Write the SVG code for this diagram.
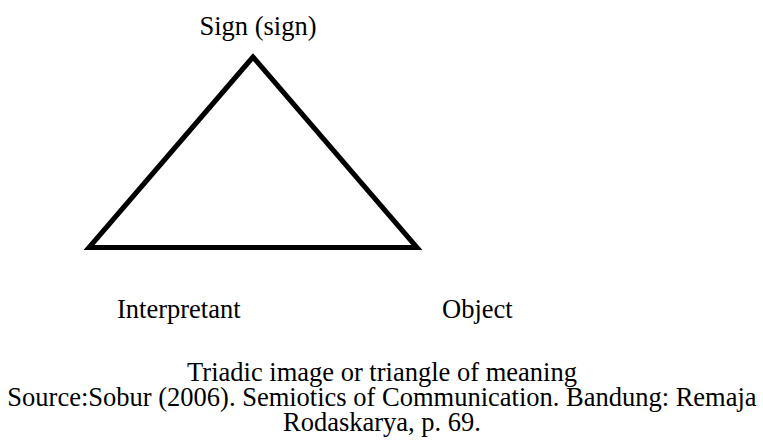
<svg xmlns="http://www.w3.org/2000/svg" width="763" height="441" viewBox="0 0 763 441">
<style>
text { font-family: "Liberation Serif", "Times New Roman", serif; font-size: 26.5px; fill: #000; }
.c { text-anchor: middle; }
</style>
<rect width="763" height="441" fill="#fff"/>
<g id="connectors">
<polygon points="253,57 89,247.5 417,247.5" fill="none" stroke="#000" stroke-width="5" stroke-linejoin="miter" stroke-miterlimit="10"/>
</g>
<g id="sign"><text class="c" x="258" y="35">Sign (sign)</text></g>
<g id="interpretant"><text x="117" y="318">Interpretant</text></g>
<g id="object"><text x="442" y="318">Object</text></g>
<g id="caption">
<text class="c" x="382" y="381">Triadic image or triangle of meaning</text>
<text class="c" x="382" y="406">Source:Sobur (2006). Semiotics of Communication. Bandung: Remaja</text>
<text class="c" x="382" y="431">Rodaskarya, p. 69.</text>
</g>
</svg>
